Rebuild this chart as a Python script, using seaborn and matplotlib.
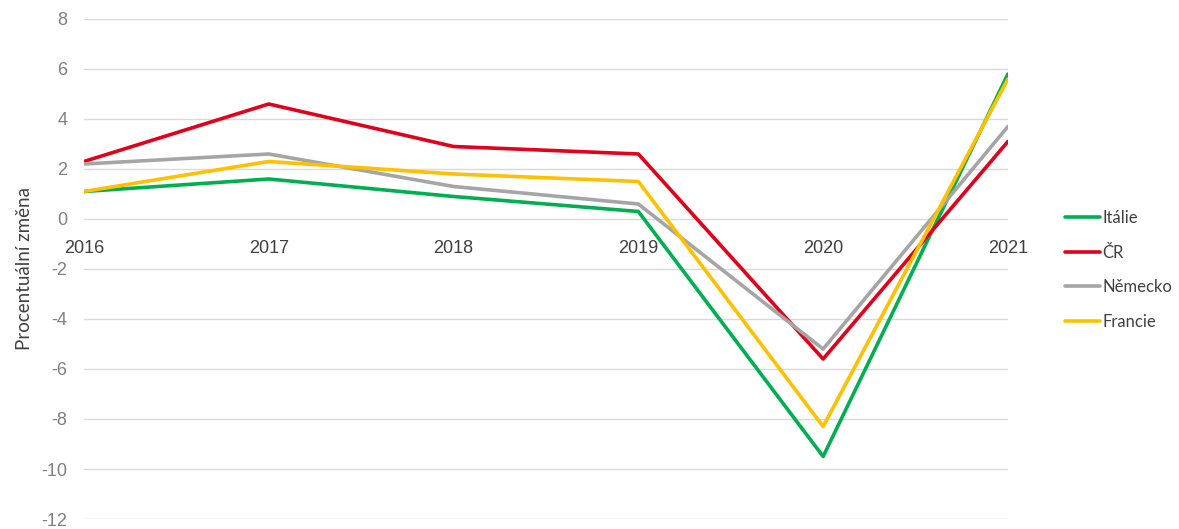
import pandas as pd
import matplotlib
matplotlib.use("Agg")
import matplotlib.pyplot as plt
import seaborn as sns

# hodnoty
roky = [2016, 2017, 2018, 2019, 2020, 2021]
italie = [1.1, 1.6, 0.9, 0.3, -9.5, 5.8]
cr = [2.3, 4.6, 2.9, 2.6, -5.6, 3.1]
nemecko = [2.2, 2.6, 1.3, 0.6, -5.2, 3.7]
francie = [1.1, 2.3, 1.8, 1.5, -8.3, 5.6]

zeme = ["Itálie", "ČR", "Německo", "Francie"]
barvy = ["#00B050", "#E2001A", "#A5A5A5", "#FFC000"]

df = pd.DataFrame({"rok": roky, "Itálie": italie, "ČR": cr,
                   "Německo": nemecko, "Francie": francie})
df = df.melt(id_vars="rok", var_name="zeme", value_name="zmena")

sns.set_theme(style="white")
plt.rcParams["font.family"] = ["Liberation Sans", "DejaVu Sans"]
plt.rcParams["axes.unicode_minus"] = False

fig = plt.figure(figsize=(11.79, 5.29), dpi=100)
ax = fig.add_axes([0.0712, 0.0189, 0.7837, 0.9452])

sns.lineplot(data=df, x="rok", y="zmena", hue="zeme", hue_order=zeme,
             palette=barvy, linewidth=2.6, ax=ax, legend=True)

ax.set_xlim(2016, 2021)
ax.set_ylim(-12, 8)
ax.set_yticks(range(-12, 9, 2))
ax.set_xticks(roky)
ax.grid(axis="y", color="#D9D9D9", linewidth=1)
ax.set_axisbelow(True)
for s in ax.spines.values():
    s.set_visible(False)
ax.spines["bottom"].set_position(("data", 0))
ax.tick_params(axis="y", length=0, labelsize=13, labelcolor="#808080", pad=12)
ax.tick_params(axis="x", length=0, labelsize=13, labelcolor="#404040", pad=15)
ax.set_xlabel("")
ax.set_ylabel("Procentuální změna", fontsize=13.5, color="#404040",
              family=["Lato", "DejaVu Sans"])
ax.yaxis.set_label_coords(-0.055, 0.5)

leg = ax.legend(loc="center left", bbox_to_anchor=(1.045, 0.498), frameon=False,
                handlelength=2.1, handletextpad=0.15, labelspacing=1.12,
                prop={"family": ["Lato", "DejaVu Sans"], "size": 12})
for t in leg.get_texts():
    t.set_color("#404040")
for l in leg.get_lines():
    l.set_linewidth(2.6)

fig.savefig("out.png", dpi=100)
